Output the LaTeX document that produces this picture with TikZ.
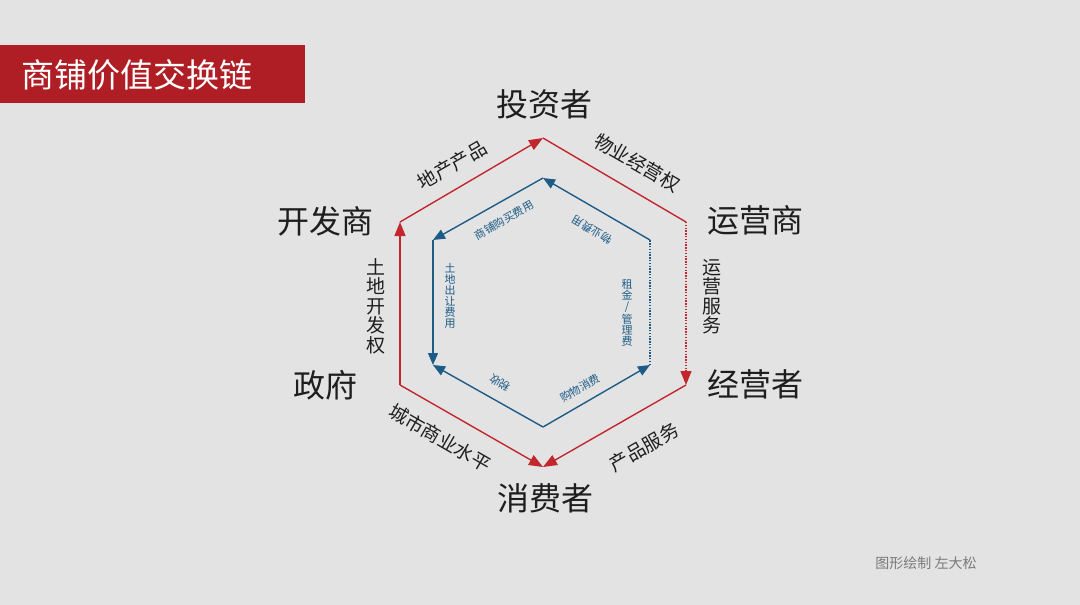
\documentclass[tikz,border=0pt]{standalone}
\usepackage{fontspec}
\setmainfont{Noto Sans CJK SC}
\usetikzlibrary{arrows.meta}
\definecolor{bgc}{HTML}{E4E3E4}
\definecolor{titlered}{HTML}{B01E25}
\definecolor{hred}{HTML}{C1272D}
\definecolor{hblue}{HTML}{1C5C86}
\definecolor{footc}{HTML}{7A7A7A}
\definecolor{txt}{HTML}{1E1E1E}
\begin{document}
\begin{tikzpicture}[x=1pt,y=-1pt,
  actor/.style={font=\fontsize{32}{32}\selectfont, text=txt, inner sep=0pt},
  olabel/.style={font=\fontsize{19}{19.5}\selectfont, text=txt, inner sep=0pt, align=center},
  ilabel/.style={font=\fontsize{11}{11}\selectfont, text=hblue, inner sep=0pt, align=center},
  redline/.style={draw=hred, line width=1.4pt},
  blueline/.style={draw=hblue, line width=1.4pt},
  rtip/.style={-{Triangle[length=14pt,width=11pt]}},
  btip/.style={-{Triangle[length=12pt,width=10pt]}},
  dotline/.style={dash pattern=on 1.4pt off 1.4pt}
]
\useasboundingbox (0,0) rectangle (1080,605);
\fill[bgc] (0,0) rectangle (1080,605);

% title
\fill[titlered] (0,45) rectangle (305,103);
\node[anchor=west, text=white, font=\fontsize{33}{33}\selectfont, inner sep=0pt] (title) at (21,75) {商铺价值交换链};

% outer hexagon vertices
\coordinate (oT) at (543,138);
\coordinate (oUR) at (686,222);
\coordinate (oLR) at (686,385);
\coordinate (oB) at (543,467);
\coordinate (oLL) at (400,385);
\coordinate (oUL) at (400,222);

% inner hexagon vertices
\coordinate (iT) at (543,178);
\coordinate (iUR) at (650,240);
\coordinate (iLR) at (650,365);
\coordinate (iB) at (543,427);
\coordinate (iLL) at (433,365);
\coordinate (iUL) at (433,240);

% actors
\node[actor] (investor) at (544,104) {投资者};
\node[actor] (operator) at (755,220) {运营商};
\node[actor] (merchant) at (755,384) {经营者};
\node[actor] (consumer) at (545,498) {消费者};
\node[actor] (developer) at (325,221) {开发商};
\node[actor] (government) at (325,385) {政府};

% outer red edges
\draw[redline, rtip] (oUL) -- (oT);
\draw[redline] (oT) -- (oUR);
\draw[redline, rtip, dotline] (oUR) -- (oLR);
\draw[redline, rtip] (oLR) -- (oB);
\draw[redline, rtip] (oLL) -- (oB);
\draw[redline, rtip] (oLL) -- (oUL);

% inner blue edges
\draw[blueline, btip] (iUR) -- (iT);
\draw[blueline, btip] (iT) -- (iUL);
\draw[blueline, btip] (iUL) -- (iLL);
\draw[blueline, btip] (iB) -- (iLL);
\draw[blueline, btip] (iB) -- (iLR);
\draw[blueline, dotline] (iLR) -- (iUR);

% outer labels
\node[olabel, rotate=30] (l1) at (452,165) {地产产品};
\node[olabel, rotate=-30] (l2) at (637,163) {物业经营权};
\node[olabel] (l3) at (712,297) {运\\营\\服\\务};
\node[olabel, rotate=30] (l4) at (644,447) {产品服务};
\node[olabel, rotate=-30] (l5) at (440,438) {城市商业水平};
\node[olabel] (l6) at (376,306) {土\\地\\开\\发\\权};

% inner labels
\node[ilabel, rotate=30] (m1) at (504,220) {商铺购买费用};
\node[ilabel, rotate=150] (m2) at (592,230) {物业费用};
\node[ilabel] (m3) at (450,296) {土\\地\\出\\让\\费\\用};
\node[ilabel] (m4) at (627,313) {租\\金\\/\\管\\理\\费};
\node[ilabel, rotate=150] (m5) at (500,383) {税收};
\node[ilabel, rotate=30] (m6) at (580,388) {购物消费};

% footer
\node[text=footc, font=\fontsize{14}{14}\selectfont, inner sep=0pt] (footer) at (926,563) {图形绘制 左大松};
\end{tikzpicture}
\end{document}
